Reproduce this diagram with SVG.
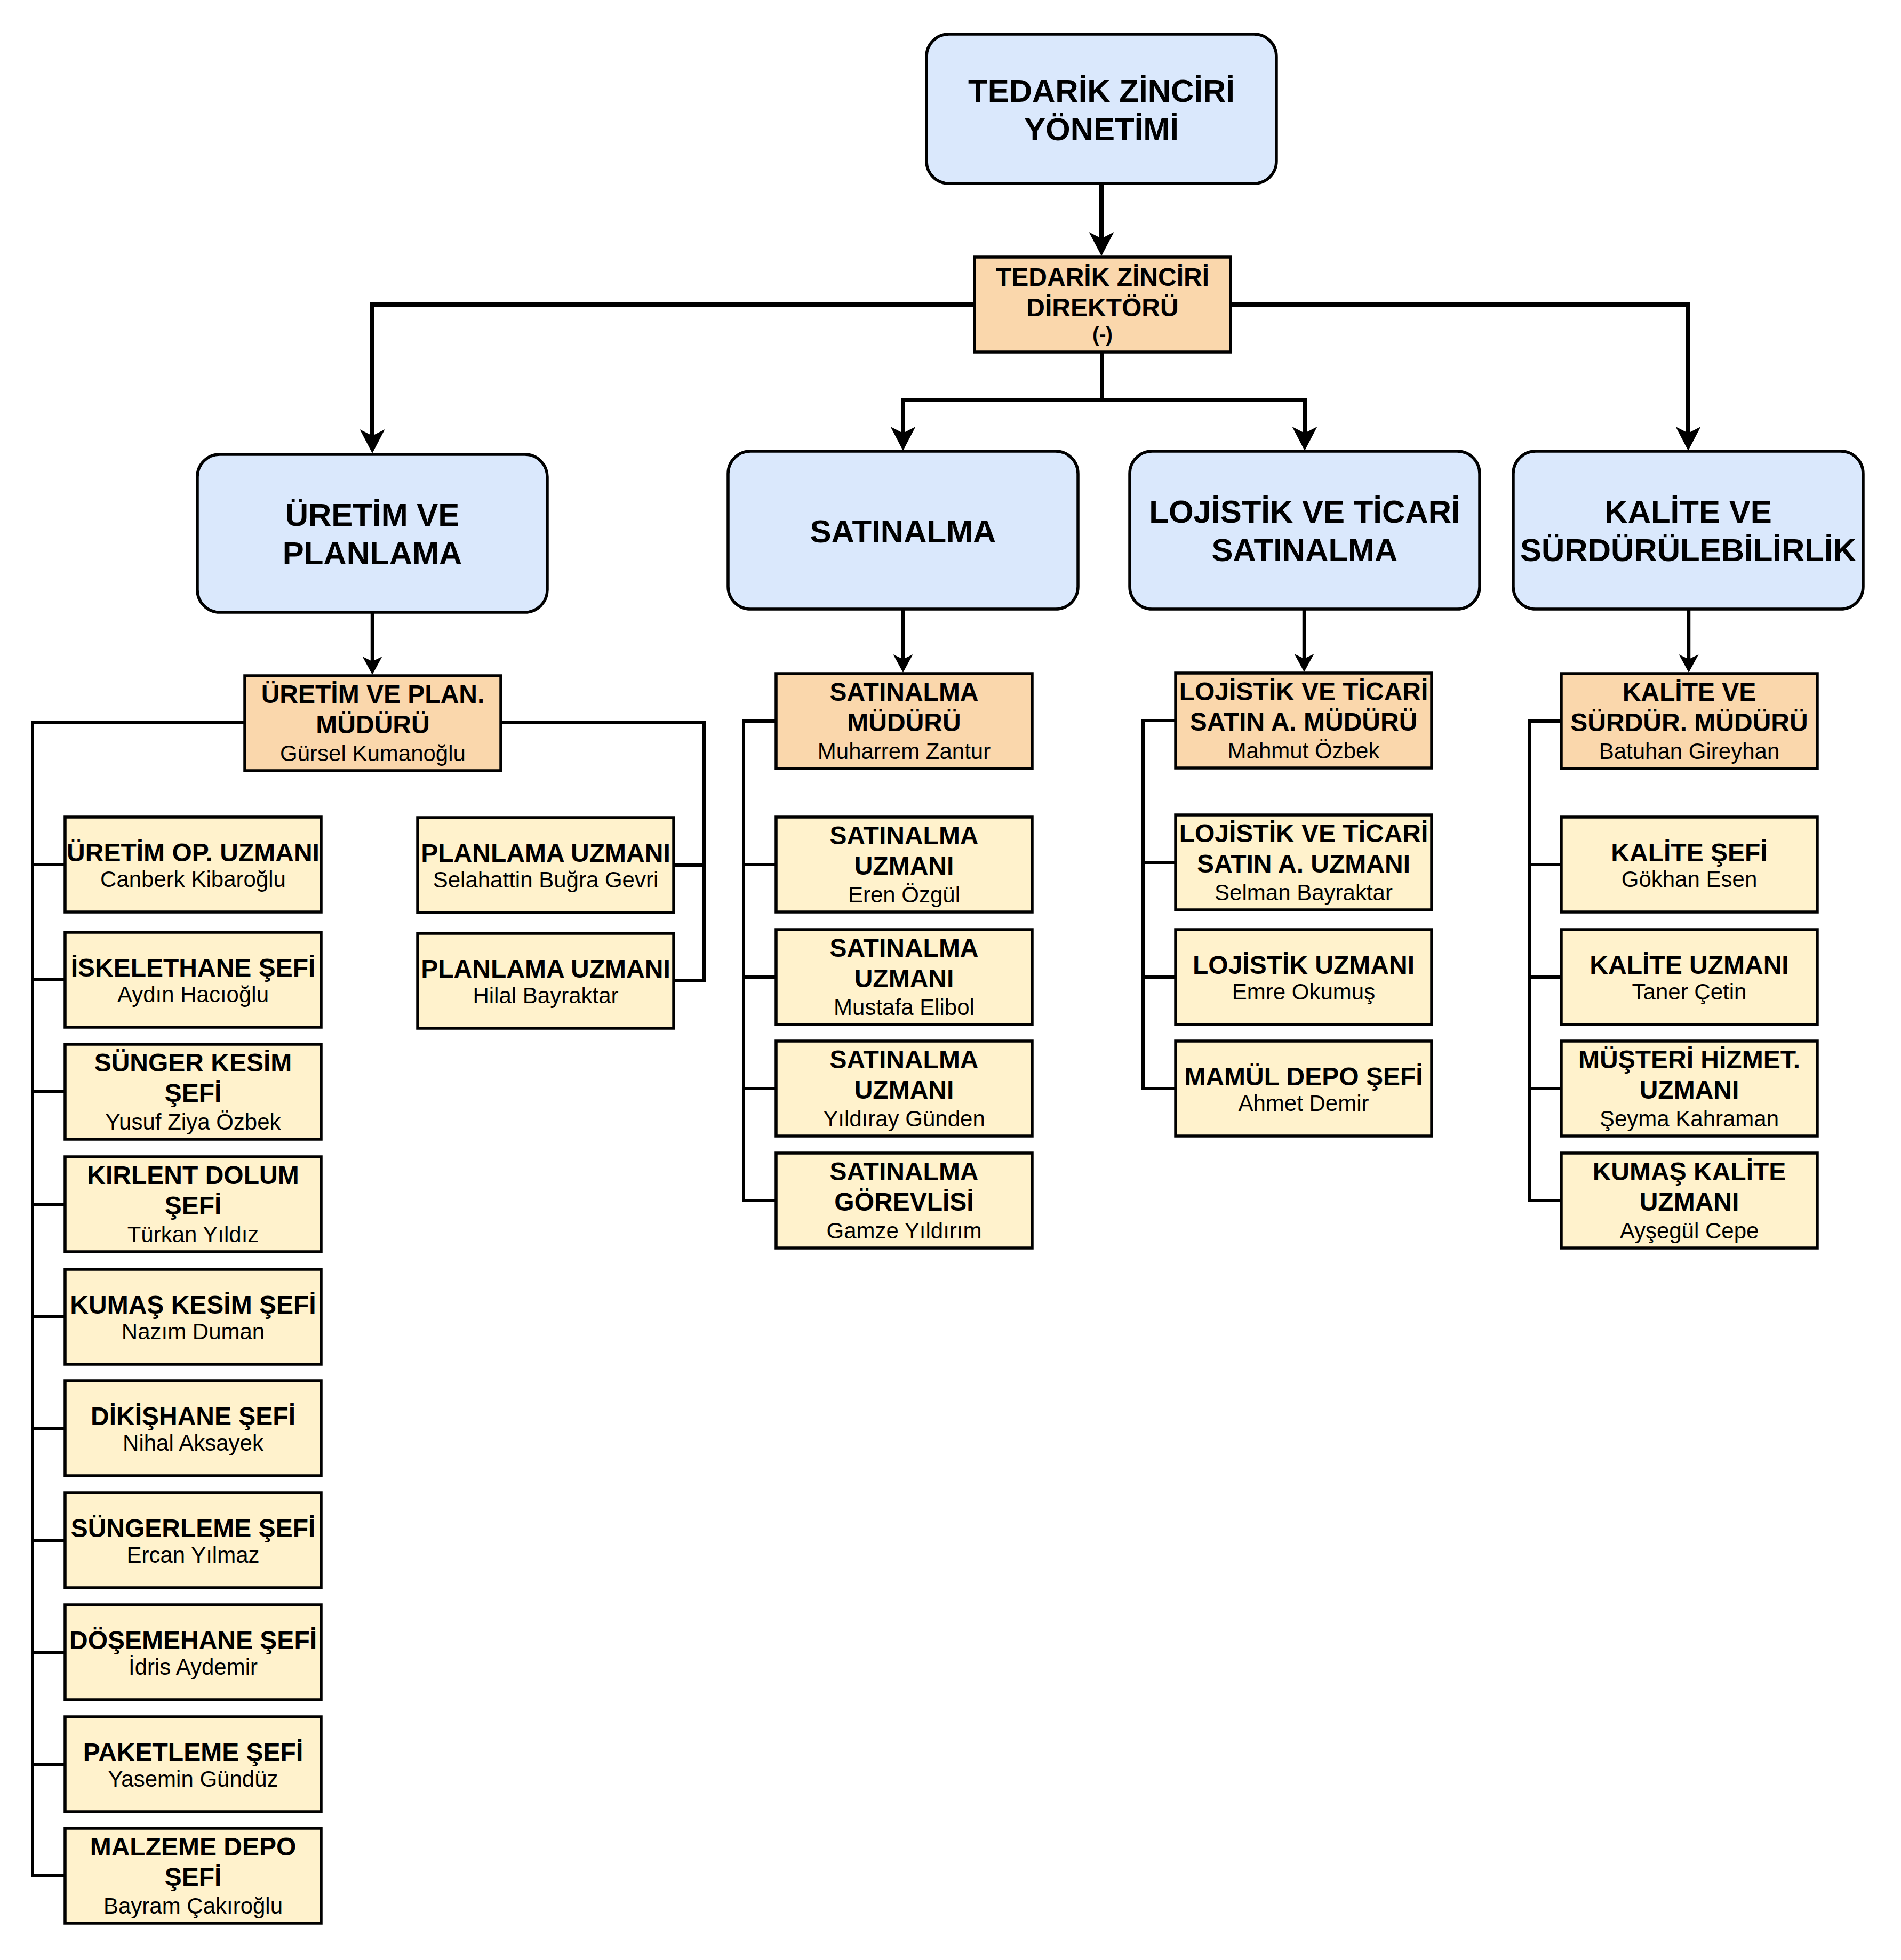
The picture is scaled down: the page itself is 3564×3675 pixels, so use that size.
<svg xmlns="http://www.w3.org/2000/svg" width="3564" height="3675" viewBox="0 0 3564 3675">
<style>
text{font-family:"Liberation Sans",Arial,sans-serif;text-anchor:middle;fill:#000}
.h{font-size:60px;font-weight:bold}
.t{font-size:48px;font-weight:bold}
.n{font-size:42px}
.d{font-size:38px;font-weight:bold}
.blue{fill:#dae8fc;stroke:#000;stroke-width:5.5}
.mgr{fill:#fad7ac;stroke:#000;stroke-width:5.5}
.staff{fill:#fff2cc;stroke:#000;stroke-width:5.5}
.c1{fill:none;stroke:#000;stroke-width:8;marker-end:url(#big)}
.c2{fill:none;stroke:#000;stroke-width:6.5;marker-end:url(#small)}
.c3{fill:none;stroke:#000;stroke-width:6}
</style>
<defs>
<marker id="big" markerUnits="userSpaceOnUse" markerWidth="50" markerHeight="50" viewBox="0 0 50 50" refX="12" refY="25" orient="auto"><path d="M0,1.5 L45,25 L0,48.5 L12,25 Z" fill="#000"/></marker>
<marker id="small" markerUnits="userSpaceOnUse" markerWidth="40" markerHeight="40" viewBox="0 0 40 40" refX="9" refY="20" orient="auto"><path d="M0,1.5 L34,20 L0,38.5 L9,20 Z" fill="#000"/></marker>
</defs>
<rect width="3564" height="3675" fill="#fff"/>
<g id="connectors">
<path class="c1" d="M2065,344 V447"/>
<path class="c1" d="M1827,571 H698 V817"/>
<path class="c1" d="M2307,571 H3165 V812"/>
<path class="c1" d="M2066,660 V750 H1693 V812"/>
<path class="c1" d="M2066,750 H2446 V812"/>
<path class="c2" d="M698,1148 V1240"/>
<path class="c2" d="M1693,1142 V1236"/>
<path class="c2" d="M2445,1142 V1235"/>
<path class="c2" d="M3166,1142 V1236"/>
<path class="c3" d="M459,1355 H61 V1621 H122"/>
<path class="c3" d="M459,1355 H61 V1837 H122"/>
<path class="c3" d="M459,1355 H61 V2047 H122"/>
<path class="c3" d="M459,1355 H61 V2258 H122"/>
<path class="c3" d="M459,1355 H61 V2469 H122"/>
<path class="c3" d="M459,1355 H61 V2678 H122"/>
<path class="c3" d="M459,1355 H61 V2888 H122"/>
<path class="c3" d="M459,1355 H61 V3098 H122"/>
<path class="c3" d="M459,1355 H61 V3308 H122"/>
<path class="c3" d="M459,1355 H61 V3517 H122"/>
<path class="c3" d="M939,1355 H1320 V1622 H1263"/>
<path class="c3" d="M939,1355 H1320 V1839 H1263"/>
<path class="c3" d="M1455,1352 H1394 V1621 H1455"/>
<path class="c3" d="M1455,1352 H1394 V1832 H1455"/>
<path class="c3" d="M1455,1352 H1394 V2041 H1455"/>
<path class="c3" d="M1455,1352 H1394 V2251 H1455"/>
<path class="c3" d="M2204,1351 H2143 V1617 H2204"/>
<path class="c3" d="M2204,1351 H2143 V1832 H2204"/>
<path class="c3" d="M2204,1351 H2143 V2041 H2204"/>
<path class="c3" d="M2927,1352 H2867 V1621 H2927"/>
<path class="c3" d="M2927,1352 H2867 V1832 H2927"/>
<path class="c3" d="M2927,1352 H2867 V2041 H2927"/>
<path class="c3" d="M2927,1352 H2867 V2251 H2927"/>
</g>
<g id="n-yonetim"><rect class="blue" x="1737" y="64" width="656" height="280" rx="42"/><text class="h" x="2065" y="191">TEDARİK ZİNCİRİ</text><text class="h" x="2065" y="263">YÖNETİMİ</text></g>
<g id="n-direktor"><rect class="mgr" x="1827" y="482" width="480" height="178"/><text class="t" x="2067" y="536">TEDARİK ZİNCİRİ</text><text class="t" x="2067" y="593">DİREKTÖRÜ</text><text class="d" x="2067" y="640">(-)</text></g>
<g id="n-uretim"><rect class="blue" x="370" y="852" width="656" height="296" rx="42"/><text class="h" x="698" y="986">ÜRETİM VE</text><text class="h" x="698" y="1058">PLANLAMA</text></g>
<g id="n-satinalma"><rect class="blue" x="1365" y="846" width="656" height="296" rx="42"/><text class="h" x="1693" y="1017">SATINALMA</text></g>
<g id="n-lojistik"><rect class="blue" x="2118" y="846" width="656" height="296" rx="42"/><text class="h" x="2446" y="980">LOJİSTİK VE TİCARİ</text><text class="h" x="2446" y="1052">SATINALMA</text></g>
<g id="n-kalite"><rect class="blue" x="2837" y="846" width="656" height="296" rx="42"/><text class="h" x="3165" y="980">KALİTE VE</text><text class="h" x="3165" y="1052">SÜRDÜRÜLEBİLİRLİK</text></g>
<g id="m-uretim"><rect class="mgr" x="459" y="1267" width="480" height="178"/><text class="t" x="699" y="1318">ÜRETİM VE PLAN.</text><text class="t" x="699" y="1375">MÜDÜRÜ</text><text class="n" x="699" y="1427">Gürsel Kumanoğlu</text></g>
<g id="m-satinalma"><rect class="mgr" x="1455" y="1263" width="480" height="178"/><text class="t" x="1695" y="1314">SATINALMA</text><text class="t" x="1695" y="1371">MÜDÜRÜ</text><text class="n" x="1695" y="1423">Muharrem Zantur</text></g>
<g id="m-lojistik"><rect class="mgr" x="2204" y="1262" width="480" height="178"/><text class="t" x="2444" y="1313">LOJİSTİK VE TİCARİ</text><text class="t" x="2444" y="1370">SATIN A. MÜDÜRÜ</text><text class="n" x="2444" y="1422">Mahmut Özbek</text></g>
<g id="m-kalite"><rect class="mgr" x="2927" y="1263" width="480" height="178"/><text class="t" x="3167" y="1314">KALİTE VE</text><text class="t" x="3167" y="1371">SÜRDÜR. MÜDÜRÜ</text><text class="n" x="3167" y="1423">Batuhan Gireyhan</text></g>
<g id="s-u1"><rect class="staff" x="122" y="1532" width="480" height="178"/><text class="t" x="362" y="1615">ÜRETİM OP. UZMANI</text><text class="n" x="362" y="1663">Canberk Kibaroğlu</text></g>
<g id="s-u2"><rect class="staff" x="122" y="1748" width="480" height="178"/><text class="t" x="362" y="1831">İSKELETHANE ŞEFİ</text><text class="n" x="362" y="1879">Aydın Hacıoğlu</text></g>
<g id="s-u3"><rect class="staff" x="122" y="1958" width="480" height="178"/><text class="t" x="362" y="2009">SÜNGER KESİM</text><text class="t" x="362" y="2066">ŞEFİ</text><text class="n" x="362" y="2118">Yusuf Ziya Özbek</text></g>
<g id="s-u4"><rect class="staff" x="122" y="2169" width="480" height="178"/><text class="t" x="362" y="2220">KIRLENT DOLUM</text><text class="t" x="362" y="2277">ŞEFİ</text><text class="n" x="362" y="2329">Türkan Yıldız</text></g>
<g id="s-u5"><rect class="staff" x="122" y="2380" width="480" height="178"/><text class="t" x="362" y="2463">KUMAŞ KESİM ŞEFİ</text><text class="n" x="362" y="2511">Nazım Duman</text></g>
<g id="s-u6"><rect class="staff" x="122" y="2589" width="480" height="178"/><text class="t" x="362" y="2672">DİKİŞHANE ŞEFİ</text><text class="n" x="362" y="2720">Nihal Aksayek</text></g>
<g id="s-u7"><rect class="staff" x="122" y="2799" width="480" height="178"/><text class="t" x="362" y="2882">SÜNGERLEME ŞEFİ</text><text class="n" x="362" y="2930">Ercan Yılmaz</text></g>
<g id="s-u8"><rect class="staff" x="122" y="3009" width="480" height="178"/><text class="t" x="362" y="3092">DÖŞEMEHANE ŞEFİ</text><text class="n" x="362" y="3140">İdris Aydemir</text></g>
<g id="s-u9"><rect class="staff" x="122" y="3219" width="480" height="178"/><text class="t" x="362" y="3302">PAKETLEME ŞEFİ</text><text class="n" x="362" y="3350">Yasemin Gündüz</text></g>
<g id="s-u10"><rect class="staff" x="122" y="3428" width="480" height="178"/><text class="t" x="362" y="3479">MALZEME DEPO</text><text class="t" x="362" y="3536">ŞEFİ</text><text class="n" x="362" y="3588">Bayram Çakıroğlu</text></g>
<g id="s-p1"><rect class="staff" x="783" y="1533" width="480" height="178"/><text class="t" x="1023" y="1616">PLANLAMA UZMANI</text><text class="n" x="1023" y="1664">Selahattin Buğra Gevri</text></g>
<g id="s-p2"><rect class="staff" x="783" y="1750" width="480" height="178"/><text class="t" x="1023" y="1833">PLANLAMA UZMANI</text><text class="n" x="1023" y="1881">Hilal Bayraktar</text></g>
<g id="s-s1"><rect class="staff" x="1455" y="1532" width="480" height="178"/><text class="t" x="1695" y="1583">SATINALMA</text><text class="t" x="1695" y="1640">UZMANI</text><text class="n" x="1695" y="1692">Eren Özgül</text></g>
<g id="s-s2"><rect class="staff" x="1455" y="1743" width="480" height="178"/><text class="t" x="1695" y="1794">SATINALMA</text><text class="t" x="1695" y="1851">UZMANI</text><text class="n" x="1695" y="1903">Mustafa Elibol</text></g>
<g id="s-s3"><rect class="staff" x="1455" y="1952" width="480" height="178"/><text class="t" x="1695" y="2003">SATINALMA</text><text class="t" x="1695" y="2060">UZMANI</text><text class="n" x="1695" y="2112">Yıldıray Günden</text></g>
<g id="s-s4"><rect class="staff" x="1455" y="2162" width="480" height="178"/><text class="t" x="1695" y="2213">SATINALMA</text><text class="t" x="1695" y="2270">GÖREVLİSİ</text><text class="n" x="1695" y="2322">Gamze Yıldırım</text></g>
<g id="s-l1"><rect class="staff" x="2204" y="1528" width="480" height="178"/><text class="t" x="2444" y="1579">LOJİSTİK VE TİCARİ</text><text class="t" x="2444" y="1636">SATIN A. UZMANI</text><text class="n" x="2444" y="1688">Selman Bayraktar</text></g>
<g id="s-l2"><rect class="staff" x="2204" y="1743" width="480" height="178"/><text class="t" x="2444" y="1826">LOJİSTİK UZMANI</text><text class="n" x="2444" y="1874">Emre Okumuş</text></g>
<g id="s-l3"><rect class="staff" x="2204" y="1952" width="480" height="178"/><text class="t" x="2444" y="2035">MAMÜL DEPO ŞEFİ</text><text class="n" x="2444" y="2083">Ahmet Demir</text></g>
<g id="s-k1"><rect class="staff" x="2927" y="1532" width="480" height="178"/><text class="t" x="3167" y="1615">KALİTE ŞEFİ</text><text class="n" x="3167" y="1663">Gökhan Esen</text></g>
<g id="s-k2"><rect class="staff" x="2927" y="1743" width="480" height="178"/><text class="t" x="3167" y="1826">KALİTE UZMANI</text><text class="n" x="3167" y="1874">Taner Çetin</text></g>
<g id="s-k3"><rect class="staff" x="2927" y="1952" width="480" height="178"/><text class="t" x="3167" y="2003">MÜŞTERİ HİZMET.</text><text class="t" x="3167" y="2060">UZMANI</text><text class="n" x="3167" y="2112">Şeyma Kahraman</text></g>
<g id="s-k4"><rect class="staff" x="2927" y="2162" width="480" height="178"/><text class="t" x="3167" y="2213">KUMAŞ KALİTE</text><text class="t" x="3167" y="2270">UZMANI</text><text class="n" x="3167" y="2322">Ayşegül Cepe</text></g>
</svg>
